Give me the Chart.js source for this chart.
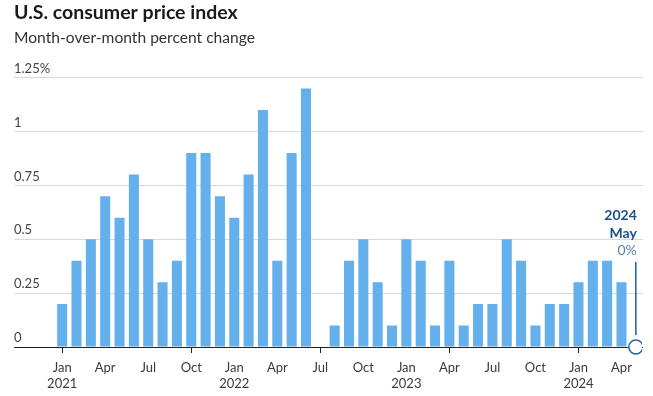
<!DOCTYPE html>
<html>
<head>
<meta charset="utf-8">
<script src="https://cdn.jsdelivr.net/npm/chart.js@4/dist/chart.umd.min.js"></script>
<style>
  html, body { margin: 0; padding: 0; background: #fff; }
  #wrap { width: 653px; height: 396px; }
</style>
</head>
<body>
<div id="wrap"><canvas id="cpiChart" width="653" height="396"></canvas></div>
<script>
const months = [
  'Jan 2021', 'Feb 2021', 'Mar 2021', 'Apr 2021', 'May 2021', 'Jun 2021',
  'Jul 2021', 'Aug 2021', 'Sep 2021', 'Oct 2021', 'Nov 2021', 'Dec 2021',
  'Jan 2022', 'Feb 2022', 'Mar 2022', 'Apr 2022', 'May 2022', 'Jun 2022',
  'Jul 2022', 'Aug 2022', 'Sep 2022', 'Oct 2022', 'Nov 2022', 'Dec 2022',
  'Jan 2023', 'Feb 2023', 'Mar 2023', 'Apr 2023', 'May 2023', 'Jun 2023',
  'Jul 2023', 'Aug 2023', 'Sep 2023', 'Oct 2023', 'Nov 2023', 'Dec 2023',
  'Jan 2024', 'Feb 2024', 'Mar 2024', 'Apr 2024', 'May 2024'
];
const cpiChange = [
  0.2, 0.4, 0.5, 0.7, 0.6, 0.8, 0.5, 0.3, 0.4, 0.9, 0.9, 0.7,
  0.6, 0.8, 1.1, 0.4, 0.9, 1.2, 0.0, 0.1, 0.4, 0.5, 0.3, 0.1,
  0.5, 0.4, 0.1, 0.4, 0.1, 0.2, 0.2, 0.5, 0.4, 0.1, 0.2, 0.2,
  0.3, 0.4, 0.4, 0.3, 0.0
];
const yTickLabels = ['0', '0.25', '0.5', '0.75', '1', '1.25%'];
const shownMonths = ['Jan', 'Apr', 'Jul', 'Oct'];
const calloutYear = '2024';
const calloutMonth = 'May';
const calloutValue = '0%';

const FONT = 'Lato, "Open Sans", sans-serif';
const lastIdx = cpiChange.length - 1;

function monthTick(i) {
  const parts = months[i].split(' ');
  if (!shownMonths.includes(parts[0])) return null;
  if (parts[0] === 'Jan') return [parts[0], parts[1]];
  return parts[0];
}

// callout text + stem above the last point
const callout = {
  id: 'callout',
  afterDatasetsDraw(chart) {
    const ctx = chart.ctx;
    const x = chart.scales.x.getPixelForValue(lastIdx);
    const y = chart.scales.y.getPixelForValue(cpiChange[lastIdx]);
    ctx.save();
    ctx.strokeStyle = '#1f5e9c';
    ctx.lineWidth = 1.5;
    ctx.beginPath();
    ctx.moveTo(x, y - 85);
    ctx.lineTo(x, y - 12);
    ctx.stroke();
    ctx.textAlign = 'right';
    ctx.textBaseline = 'middle';
    ctx.fillStyle = '#1b4f8a';
    ctx.font = 'bold 14px ' + FONT;
    ctx.fillText(calloutYear, x + 1, y - 132);
    ctx.fillText(calloutMonth, x + 1, y - 114);
    ctx.fillStyle = '#5d7fa6';
    ctx.font = '14px ' + FONT;
    ctx.fillText(calloutValue, x + 1, y - 97);
    ctx.restore();
  }
};

new Chart(document.getElementById('cpiChart').getContext('2d'), {
  type: 'bar',
  data: {
    labels: months,
    datasets: [{
      type: 'line',
      data: cpiChange.map((v, i) => i === lastIdx ? v : null),
      showLine: false,
      pointRadius: 7,
      pointBorderWidth: 1.5,
      pointBackgroundColor: '#fff',
      pointBorderColor: '#2466a6',
      clip: { left: 10, top: 10, right: -1, bottom: 20 },
      order: 0
    }, {
      data: cpiChange,
      backgroundColor: '#63b0ec',
      barPercentage: 1,
      categoryPercentage: 0.7,
      order: 1
    }]
  },
  options: {
    responsive: false,
    animation: false,
    layout: { padding: { left: 14, right: 10, top: 0, bottom: 0 } },
    plugins: {
      legend: { display: false },
      tooltip: { enabled: false },
      title: {
        display: true,
        text: 'U.S. consumer price index',
        align: 'start',
        color: '#1a1a1a',
        font: { family: FONT, size: 19.5, weight: 'bold' },
        padding: { top: 1, bottom: 4 }
      },
      subtitle: {
        display: true,
        text: 'Month-over-month percent change',
        align: 'start',
        color: '#333',
        font: { family: FONT, size: 15.6 },
        padding: { top: 0, bottom: 30.5 }
      }
    },
    scales: {
      x: {
        offset: true,
        grid: {
          offset: false,
          drawOnChartArea: false,
          drawTicks: true,
          tickLength: 6,
          color: c => monthTick(c.index) ? '#222' : 'rgba(0,0,0,0)'
        },
        border: { display: false },
        ticks: {
          autoSkip: false,
          maxRotation: 0,
          padding: 7,
          color: '#3a3a3a',
          font: { family: FONT, size: 13 },
          callback: (v, i) => monthTick(i)
        },
        afterFit: s => { s.height = 49; }
      },
      y: {
        min: 0,
        max: 1.25,
        grid: {
          drawTicks: true,
          tickLength: 41,
          color: c => (c.tick && c.tick.value === 0) ? '#222' : '#d9d9d9'
        },
        border: { display: false },
        ticks: {
          stepSize: 0.25,
          crossAlign: 'far',
          labelOffset: -9,
          padding: 0,
          color: '#444',
          font: { family: FONT, size: 13 },
          callback: (v, i) => yTickLabels[i]
        },
        afterFit: s => { s.width = 41; }
      }
    }
  },
  plugins: [callout]
});
</script>
</body>
</html>
